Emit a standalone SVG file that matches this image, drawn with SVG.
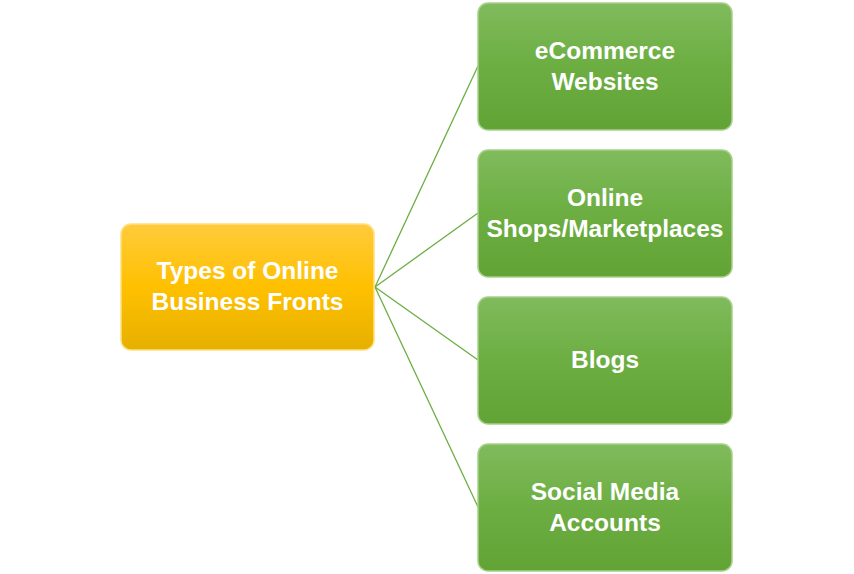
<svg xmlns="http://www.w3.org/2000/svg" width="854" height="574" viewBox="0 0 854 574">
<defs>
<linearGradient id="gy" x1="0" y1="0" x2="0" y2="1">
<stop offset="0" stop-color="#FFCB3C"/>
<stop offset="0.5" stop-color="#FFC000"/>
<stop offset="1" stop-color="#E6B000"/>
</linearGradient>
<linearGradient id="gg" x1="0" y1="0" x2="0" y2="1">
<stop offset="0" stop-color="#80BB5C"/>
<stop offset="0.5" stop-color="#6CAE42"/>
<stop offset="1" stop-color="#61A334"/>
</linearGradient>
<style>
.t{font-family:"Liberation Sans",Arial,sans-serif;font-weight:bold;font-size:24.5px;fill:#fff;text-anchor:middle}
.c{stroke:#6CAE42;stroke-width:1.3;fill:none}
.y{fill:url(#gy);stroke:#FFE080;stroke-width:1.5}
.g{fill:url(#gg);stroke:#A7D08A;stroke-width:1.5}
</style>
</defs>
<g id="connectors">
<line class="c" x1="375" y1="287" x2="478" y2="66"/>
<line class="c" x1="375" y1="287" x2="478" y2="213"/>
<line class="c" x1="375" y1="287" x2="478" y2="360"/>
<line class="c" x1="375" y1="287" x2="478" y2="507"/>
</g>
<g id="root">
<rect class="y" x="121" y="224" width="253" height="126" rx="10"/>
<text class="t" x="247.5" y="279">Types of Online</text>
<text class="t" x="247.5" y="310">Business Fronts</text>
</g>
<g id="n1">
<rect class="g" x="478" y="3" width="254" height="127" rx="10"/>
<text class="t" x="605" y="59">eCommerce</text>
<text class="t" x="605" y="90">Websites</text>
</g>
<g id="n2">
<rect class="g" x="478" y="150" width="254" height="127" rx="10"/>
<text class="t" x="605" y="206">Online</text>
<text class="t" x="605" y="237">Shops/Marketplaces</text>
</g>
<g id="n3">
<rect class="g" x="478" y="297" width="254" height="127" rx="10"/>
<text class="t" x="605" y="368">Blogs</text>
</g>
<g id="n4">
<rect class="g" x="478" y="444" width="254" height="127" rx="10"/>
<text class="t" x="605" y="500">Social Media</text>
<text class="t" x="605" y="531">Accounts</text>
</g>
</svg>
